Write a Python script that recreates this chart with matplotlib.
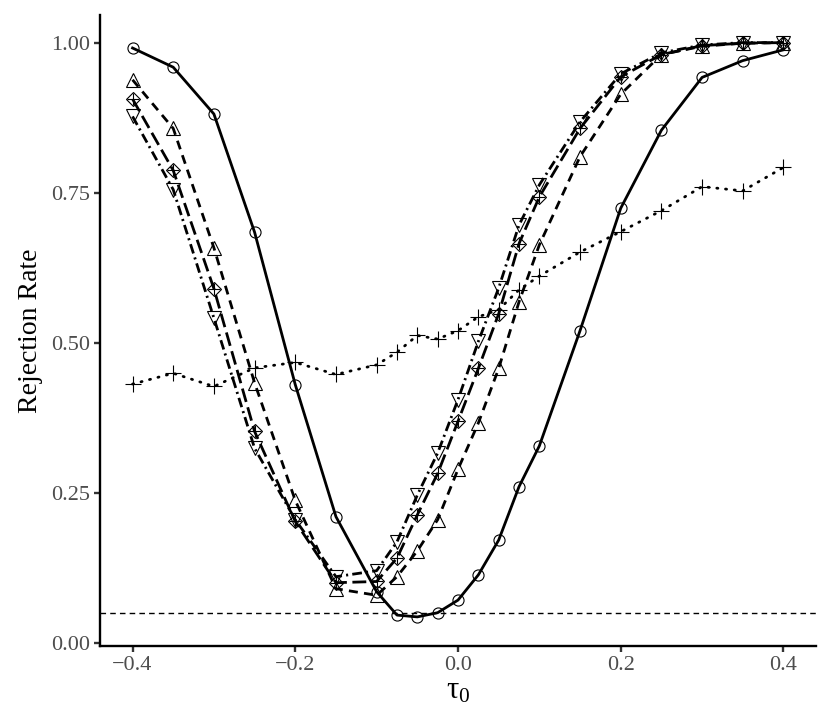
import matplotlib
matplotlib.use("Agg")
import matplotlib.pyplot as plt

plt.rcParams['font.family'] = ['Liberation Serif', 'DejaVu Serif']
plt.rcParams['mathtext.fontset'] = 'custom'
plt.rcParams['mathtext.rm'] = 'Liberation Serif'
plt.rcParams['lines.scale_dashes'] = False

tau = [-0.4, -0.35, -0.3, -0.25, -0.2, -0.15, -0.1, -0.075, -0.05, -0.025, 0.0,
       0.025, 0.05, 0.075, 0.1, 0.15, 0.2, 0.25, 0.3, 0.35, 0.4]

circle_rate = [0.991, 0.959, 0.881, 0.684, 0.430, 0.210, 0.085, 0.046, 0.043, 0.050, 0.071,
               0.113, 0.171, 0.260, 0.328, 0.520, 0.724, 0.854, 0.942, 0.970, 0.988]
triup_rate = [0.938, 0.857, 0.658, 0.433, 0.237, 0.090, 0.079, 0.110, 0.153, 0.205, 0.289,
              0.366, 0.457, 0.568, 0.663, 0.810, 0.914, 0.980, 0.994, 0.999, 1.000]
diamond_rate = [0.906, 0.787, 0.590, 0.352, 0.202, 0.100, 0.102, 0.141, 0.213, 0.282, 0.369,
                0.457, 0.548, 0.665, 0.743, 0.857, 0.943, 0.980, 0.995, 0.999, 1.000]
tridown_rate = [0.877, 0.755, 0.541, 0.324, 0.205, 0.110, 0.120, 0.168, 0.246, 0.316, 0.405,
                0.502, 0.591, 0.696, 0.763, 0.868, 0.948, 0.983, 0.996, 1.000, 1.000]
plus_rate = [0.431, 0.449, 0.427, 0.458, 0.467, 0.447, 0.463, 0.484, 0.512, 0.506, 0.520,
             0.543, 0.555, 0.588, 0.611, 0.651, 0.685, 0.720, 0.760, 0.753, 0.792]

nominal_level = 0.05

x_ticks = [-0.4, -0.2, 0.0, 0.2, 0.4]
y_ticks = [0.0, 0.25, 0.5, 0.75, 1.0]
y_ticklabels = ['0.00', '0.25', '0.50', '0.75', '1.00']

fig = plt.figure(figsize=(8.30, 7.27), dpi=100)
ax = fig.add_axes([100/830, 1-646/727, (816-100)/830, (646-15)/727])

lw = 2.0
mew = 0.8
ax.axhline(nominal_level, color='black', lw=1.0, ls=(0, (4, 3)), zorder=1)

ax.plot(tau, plus_rate, color='black', lw=lw, ls=(0, (0.8, 5.5)), dash_capstyle='round',
        marker='+', ms=11, mew=mew, zorder=2)
ax.plot(tau, triup_rate, color='black', lw=lw, ls=(0, (6.5, 4.5)),
        marker='^', ms=9.5, mfc='none', mec='black', mew=mew, zorder=3)
ax.plot(tau, diamond_rate, color='black', lw=lw, ls=(0, (10, 4)),
        marker='D', ms=7, mfc='none', mec='black', mew=mew, zorder=3)
ax.plot(tau, diamond_rate, color='none', lw=0,
        marker='+', ms=9, mec='black', mew=mew, zorder=3)
ax.plot(tau, tridown_rate, color='black', lw=lw, ls=(0, (7, 3, 1.5, 3)),
        marker='v', ms=9.5, mfc='none', mec='black', mew=mew, zorder=3)
ax.plot(tau, circle_rate, color='black', lw=lw, ls='-',
        marker='o', ms=8, mfc='none', mec='black', mew=mew, zorder=4)

ax.set_xlim(-0.44, 0.44)
ax.set_ylim(-0.0055, 1.046)
ax.set_xticks(x_ticks)
ax.set_yticks(y_ticks)
ax.set_yticklabels(y_ticklabels)

for s in ['top', 'right']:
    ax.spines[s].set_visible(False)
for s in ['left', 'bottom']:
    ax.spines[s].set_linewidth(1.7)
    ax.spines[s].set_color('black')

ax.tick_params(axis='both', length=4, width=1.7, color='#333333',
               labelcolor='#4D4D4D', labelsize=16, pad=3)

ax.set_ylabel('Rejection Rate', fontsize=20, labelpad=6)
ax.set_xlabel(r'$\mathregular{τ_0}$', fontsize=22, labelpad=1)

fig.savefig('out.png', dpi=100)
